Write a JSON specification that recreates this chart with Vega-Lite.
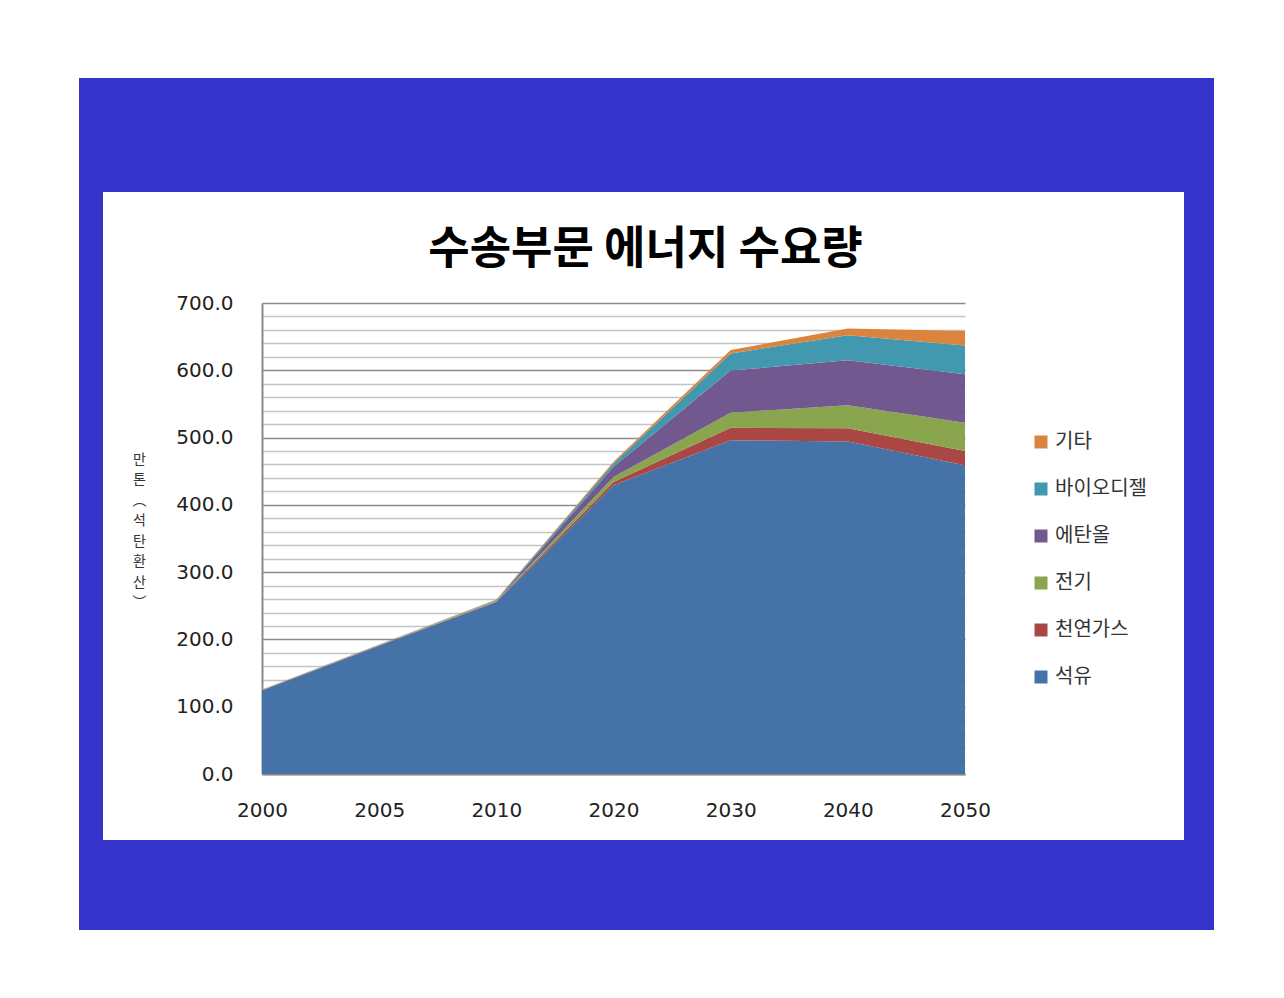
{
  "$schema": "https://vega.github.io/schema/vega-lite/v6.json",
  "background": "white",
  "padding": {"left": 79, "top": 78, "right": 70, "bottom": 68},
  "config": {"view": {"stroke": null}, "concat": {"spacing": 0}, "font": "Noto Sans CJK KR"},
  "spacing": 0,
  "vconcat": [
    {"width": 1135, "height": 114, "view": {"fill": "#3434CA", "stroke": null}, "data": {"values": []}, "mark": "rect", "encoding": {}},
    {
      "spacing": 0,
      "hconcat": [
        {"width": 24, "height": 648, "view": {"fill": "#3434CA", "stroke": null}, "data": {"values": []}, "mark": "rect", "encoding": {}},
        {
          "spacing": 0,
          "vconcat": [
            {"width": 1081, "height": 36, "view": {"stroke": null}, "data": {"values": []}, "mark": "rect", "encoding": {}},
            {
              "spacing": 0,
              "hconcat": [
                {"width": 28.5, "height": 1, "view": {"stroke": null}, "data": {"values": []}, "mark": "rect", "encoding": {}},
                {
                  "width": 703,
                  "height": 471,
                  "title": {"text": "수송부문 에너지 수요량", "fontSize": 45, "fontWeight": "bold", "font": "Noto Sans CJK KR", "color": "#000000", "anchor": "middle", "frame": "group", "dx": 32, "offset": -25, "baseline": "bottom"},
                  "data": {"values": [
                    {"year": "2000", "type": "석유", "rank": 1, "value": 124},
                    {"year": "2000", "type": "천연가스", "rank": 2, "value": 0.4},
                    {"year": "2000", "type": "전기", "rank": 3, "value": 0.3},
                    {"year": "2000", "type": "에탄올", "rank": 4, "value": 0.2},
                    {"year": "2000", "type": "바이오디젤", "rank": 5, "value": 0.3},
                    {"year": "2000", "type": "기타", "rank": 6, "value": 0.3},
                    {"year": "2005", "type": "석유", "rank": 1, "value": 190.5},
                    {"year": "2005", "type": "천연가스", "rank": 2, "value": 0.6},
                    {"year": "2005", "type": "전기", "rank": 3, "value": 0.4},
                    {"year": "2005", "type": "에탄올", "rank": 4, "value": 0.3},
                    {"year": "2005", "type": "바이오디젤", "rank": 5, "value": 0.4},
                    {"year": "2005", "type": "기타", "rank": 6, "value": 0.3},
                    {"year": "2010", "type": "석유", "rank": 1, "value": 255.5},
                    {"year": "2010", "type": "천연가스", "rank": 2, "value": 1},
                    {"year": "2010", "type": "전기", "rank": 3, "value": 0.8},
                    {"year": "2010", "type": "에탄올", "rank": 4, "value": 0.6},
                    {"year": "2010", "type": "바이오디젤", "rank": 5, "value": 0.8},
                    {"year": "2010", "type": "기타", "rank": 6, "value": 0.6},
                    {"year": "2020", "type": "석유", "rank": 1, "value": 429},
                    {"year": "2020", "type": "천연가스", "rank": 2, "value": 5},
                    {"year": "2020", "type": "전기", "rank": 3, "value": 7.5},
                    {"year": "2020", "type": "에탄올", "rank": 4, "value": 15},
                    {"year": "2020", "type": "바이오디젤", "rank": 5, "value": 5},
                    {"year": "2020", "type": "기타", "rank": 6, "value": 2.5},
                    {"year": "2030", "type": "석유", "rank": 1, "value": 496},
                    {"year": "2030", "type": "천연가스", "rank": 2, "value": 18.5},
                    {"year": "2030", "type": "전기", "rank": 3, "value": 22.5},
                    {"year": "2030", "type": "에탄올", "rank": 4, "value": 62.5},
                    {"year": "2030", "type": "바이오디젤", "rank": 5, "value": 25.5},
                    {"year": "2030", "type": "기타", "rank": 6, "value": 5},
                    {"year": "2040", "type": "석유", "rank": 1, "value": 494},
                    {"year": "2040", "type": "천연가스", "rank": 2, "value": 20},
                    {"year": "2040", "type": "전기", "rank": 3, "value": 34},
                    {"year": "2040", "type": "에탄올", "rank": 4, "value": 67},
                    {"year": "2040", "type": "바이오디젤", "rank": 5, "value": 37},
                    {"year": "2040", "type": "기타", "rank": 6, "value": 10},
                    {"year": "2050", "type": "석유", "rank": 1, "value": 459},
                    {"year": "2050", "type": "천연가스", "rank": 2, "value": 21},
                    {"year": "2050", "type": "전기", "rank": 3, "value": 42},
                    {"year": "2050", "type": "에탄올", "rank": 4, "value": 72},
                    {"year": "2050", "type": "바이오디젤", "rank": 5, "value": 43},
                    {"year": "2050", "type": "기타", "rank": 6, "value": 21.5}
                  ]},
                  "mark": {"type": "area", "opacity": 1},
                  "encoding": {
                    "x": {
                      "field": "year", "type": "ordinal",
                      "scale": {"type": "point", "padding": 0},
                      "axis": {"title": null, "labelAngle": 0, "labelFont": "DejaVu Sans", "labelFontSize": 20, "labelColor": "#222222", "labelPadding": 26, "labelBaseline": "top", "ticks": false, "grid": false, "domainColor": "#8a8a8a", "domainWidth": 2}
                    },
                    "y": {
                      "field": "value", "type": "quantitative", "stack": "zero",
                      "scale": {"domain": [0, 700], "nice": false},
                      "axis": {
                        "title": ["만", "톤", "︵", "석", "탄", "환", "산", "︶"],
                        "titleAngle": 0, "titleX": -123, "titleY": 156, "titleAlign": "center", "titleBaseline": "middle",
                        "titleFont": "Noto Sans CJK KR", "titleFontSize": 14, "titleFontWeight": "normal", "titleLineHeight": 20.5, "titleColor": "#333333",
                        "values": [0, 20, 40, 60, 80, 100, 120, 140, 160, 180, 200, 220, 240, 260, 280, 300, 320, 340, 360, 380, 400, 420, 440, 460, 480, 500, 520, 540, 560, 580, 600, 620, 640, 660, 680, 700],
                        "labelExpr": "datum.value % 100 === 0 ? format(datum.value, '.1f') : ''",
                        "labelOverlap": false,
                        "labelFont": "DejaVu Sans", "labelFontSize": 20, "labelColor": "#222222", "labelPadding": 29,
                        "ticks": false,
                        "domainColor": "#8a8a8a", "domainWidth": 2,
                        "gridColor": {"condition": {"test": "datum.value % 100 === 0", "value": "#8c8c8c"}, "value": "#c4c4c4"},
                        "gridWidth": 1.3
                      }
                    },
                    "order": {"field": "rank", "type": "quantitative", "sort": "ascending"},
                    "color": {
                      "field": "type", "type": "nominal",
                      "sort": ["기타", "바이오디젤", "에탄올", "전기", "천연가스", "석유"],
                      "scale": {"domain": ["기타", "바이오디젤", "에탄올", "전기", "천연가스", "석유"], "range": ["#DB843D", "#4198AF", "#71588F", "#89A54E", "#AA4643", "#4572A7"]},
                      "legend": {"title": null, "orient": "none", "legendX": 952, "legendY": 354, "direction": "vertical", "symbolType": "square", "symbolSize": 169, "symbolStrokeWidth": 0, "symbolOpacity": 1, "labelFont": "Noto Sans CJK KR", "labelFontSize": 20, "labelColor": "#333333", "labelOffset": 4, "rowPadding": 27, "padding": 0}
                    }
                  }
                }
              ]
            }
          ]
        },
        {"width": 30, "height": 648, "view": {"fill": "#3434CA", "stroke": null}, "data": {"values": []}, "mark": "rect", "encoding": {}}
      ]
    },
    {"width": 1135, "height": 90, "view": {"fill": "#3434CA", "stroke": null}, "data": {"values": []}, "mark": "rect", "encoding": {}}
  ]
}
